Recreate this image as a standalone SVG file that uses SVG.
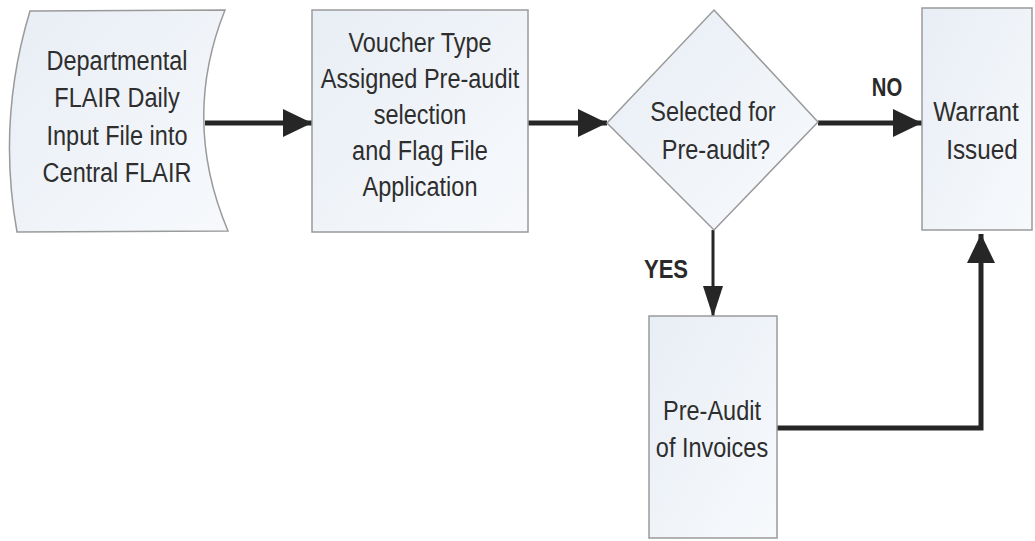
<svg xmlns="http://www.w3.org/2000/svg" width="1035" height="541" viewBox="0 0 1035 541">
<style>
.node{fill:url(#fillg);stroke:#9a9a9a;stroke-width:1.5}
.t{font-family:"Liberation Sans",Arial,sans-serif;font-size:27px;fill:#2e2e2e;text-anchor:middle}
.lbl{font-family:"Liberation Sans",Arial,sans-serif;font-size:26px;font-weight:bold;fill:#2a2a2a;text-anchor:middle}
.big{stroke:#262626;stroke-width:5;fill:none}
.thin{stroke:#262626;stroke-width:3;fill:none}
</style>
<defs>
<linearGradient id="fillg" x1="0" y1="0" x2="1" y2="1">
<stop offset="0" stop-color="#e8eef5"/>
<stop offset="1" stop-color="#f7f9fc"/>
</linearGradient>
<marker id="ah" markerUnits="userSpaceOnUse" markerWidth="30" markerHeight="30" viewBox="0 0 30 30" refX="29" refY="15" orient="auto">
<path d="M0,1 L29,15 L0,29 Z" fill="#262626"/>
</marker>
<marker id="ahs" markerUnits="userSpaceOnUse" markerWidth="32" markerHeight="22" viewBox="0 0 32 22" refX="31" refY="11" orient="auto">
<path d="M0,1 L31,11 L0,21 Z" fill="#262626"/>
</marker>
</defs>
<rect width="1035" height="541" fill="#ffffff"/>
<g id="connectors">
<line class="big" x1="205" y1="123" x2="312" y2="123" marker-end="url(#ah)"/>
<line class="big" x1="528" y1="123" x2="607" y2="123" marker-end="url(#ah)"/>
<line class="big" x1="818" y1="123" x2="922" y2="123" marker-end="url(#ah)"/>
<line class="thin" x1="713" y1="230" x2="713" y2="317" marker-end="url(#ahs)"/>
<polyline class="big" points="777,428 981,428 981,234" marker-end="url(#ah)"/>
<text class="lbl" transform="translate(887,96) scale(0.78,1)">NO</text>
<text class="lbl" transform="translate(666,278) scale(0.85,1)">YES</text>
</g>
<g id="node-input">
<path class="node" d="M30,11 L225,10 Q181,120 228,231 L17,232 Q-3,120 30,11 Z"/>
<text class="t" transform="translate(117,70) scale(0.87,1)">Departmental</text>
<text class="t" transform="translate(117,107) scale(0.87,1)">FLAIR Daily</text>
<text class="t" transform="translate(117,145) scale(0.87,1)">Input File into</text>
<text class="t" transform="translate(117,182) scale(0.87,1)">Central FLAIR</text>
</g>
<g id="node-voucher">
<rect class="node" x="312" y="10" width="216" height="222"/>
<text class="t" transform="translate(420,52) scale(0.87,1)">Voucher Type</text>
<text class="t" transform="translate(420,88) scale(0.87,1)">Assigned Pre-audit</text>
<text class="t" transform="translate(420,124) scale(0.87,1)">selection</text>
<text class="t" transform="translate(420,160) scale(0.87,1)">and Flag File</text>
<text class="t" transform="translate(420,196) scale(0.87,1)">Application</text>
</g>
<g id="node-decision">
<path class="node" d="M714,10 L818,122 L714,230 L607,123 Z"/>
<text class="t" transform="translate(713,121) scale(0.87,1)">Selected for</text>
<text class="t" transform="translate(716,159) scale(0.87,1)">Pre-audit?</text>
</g>
<g id="node-warrant">
<rect class="node" x="922" y="8" width="110" height="222"/>
<text class="t" transform="translate(976,121) scale(0.9,1)">Warrant</text>
<text class="t" transform="translate(982,159) scale(0.9,1)">Issued</text>
</g>
<g id="node-preaudit">
<rect class="node" x="649" y="316" width="128" height="222"/>
<text class="t" transform="translate(712,420) scale(0.87,1)">Pre-Audit</text>
<text class="t" transform="translate(712,457) scale(0.87,1)">of Invoices</text>
</g>
</svg>
